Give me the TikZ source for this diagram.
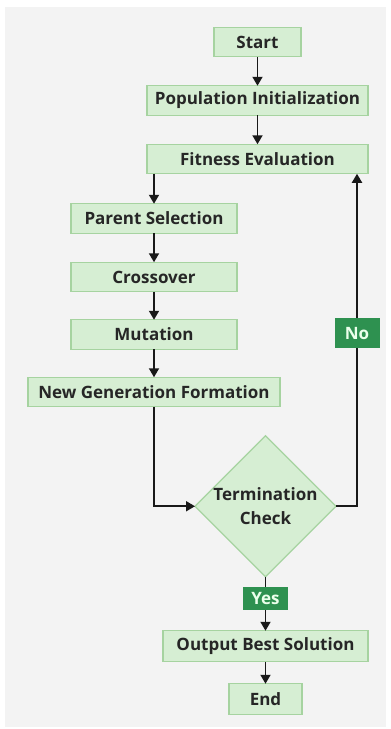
\documentclass[tikz,border=0pt]{standalone}
\usepackage{fontspec}
\setmainfont{Open Sans}
\usetikzlibrary{positioning,shapes.geometric,arrows.meta}

\definecolor{boxfill}{HTML}{D6EED3}
\definecolor{boxline}{HTML}{A6D3A0}
\definecolor{lblfill}{HTML}{2E9150}
\definecolor{panel}{HTML}{F3F3F3}

\begin{document}
\begin{tikzpicture}[
        x=1pt, y=1pt,
        font=\fontsize{17}{20}\selectfont\bfseries,
        box/.style={draw=boxline, line width=1.2pt, fill=boxfill, align=center,
            text=black!85, inner sep=0pt, outer sep=0pt, minimum height=29.5pt},
        decision/.style={diamond, draw=boxline, line width=1.2pt, fill=boxfill,
            font=\fontsize{17}{24}\selectfont\bfseries,
            align=center, text=black!85, inner sep=-8pt, outer sep=0pt, aspect=1, minimum size=141pt},
        lbl/.style={fill=lblfill, text=green!8, inner sep=0pt, minimum width=45pt},
        arr/.style={-{Triangle[width=10pt, length=9pt]}, line width=1.8pt, black!90},
    ]
        % canvas
        \useasboundingbox (0,0) rectangle (391,-729);
        \fill[panel] (5,-7) rectangle (386,-727);

        % main column
        \node[box, minimum width=87pt] (start) at (257.5,-42) {Start};
        \node[box, minimum width=221pt, below=29pt of start] (init) {Population Initialization};
        \node[box, minimum width=221pt, below=29pt of init] (fitness) {Fitness Evaluation};

        % left column: variation steps
        \node[box, minimum width=166pt, below=30pt of fitness, xshift=-103.5pt] (parent) {Parent Selection};
        \node[box, minimum width=166pt, below=29pt of parent] (cross) {Crossover};
        \node[box, minimum width=166pt, below=28pt of cross] (mutate) {Mutation};
        \node[box, minimum width=252pt, below=28pt of mutate] (newgen) {New Generation Formation};

        % decision and exit
        \node[decision, below=29pt of newgen, xshift=111.5pt] (check) {Termination\\ Check};
        \node[box, minimum width=205pt, minimum height=31pt, below=54pt of check] (best) {Output Best Solution};
        \node[box, minimum width=73pt, minimum height=31pt, below=22pt of best] (stop) {End};

        \draw[arr] (start) -- (init);
        \draw[arr] (init) -- (fitness);
        \draw[arr] (fitness.south -| parent.north) -- (parent);
        \draw[arr] (parent) -- (cross);
        \draw[arr] (cross) -- (mutate);
        \draw[arr] (mutate) -- (newgen);
        \draw[arr] (newgen.south) |- (check.west);
        \draw[arr] (check.east) -| node[lbl, pos=0.76, minimum height=30pt] {No}
            ([xshift=-11pt]fitness.south east);
        \draw[arr] (check.south) -- node[lbl, pos=0.4, minimum height=23pt] {Yes} (best);
        \draw[arr] (best) -- (stop);
    \end{tikzpicture}
\end{document}
